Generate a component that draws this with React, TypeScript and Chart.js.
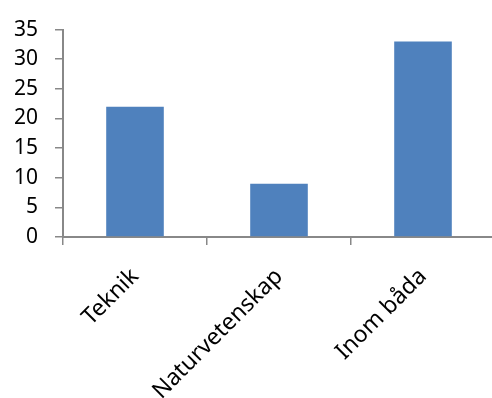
import React, { useEffect, useRef } from "react";
import { Chart, registerables } from "chart.js";

Chart.register(...registerables);

const categories = ["Teknik", "Naturvetenskap", "Inom båda"];
const values = [22, 9, 33];
const yMin = 0;
const yMax = 35;
const yStep = 5;

export default function App() {
  const ref = useRef<HTMLCanvasElement>(null);
  useEffect(() => {
    if (!ref.current) return;
    const chart = new Chart(ref.current, {
      type: "bar",
      data: {
        labels: categories,
        datasets: [
          {
            data: values,
            backgroundColor: "#4F81BD",
            borderWidth: 0,
            categoryPercentage: 1,
            barPercentage: 0.4,
          },
        ],
      },
      options: {
        animation: false,
        responsive: false,
        maintainAspectRatio: false,
        layout: { padding: { top: 26, right: 5, left: 0, bottom: 0 } },
        plugins: { legend: { display: false }, tooltip: { enabled: false } },
        scales: {
          x: {
            grid: {
              drawOnChartArea: false,
              drawTicks: true,
              tickLength: 8,
              color: "#888888",
              lineWidth: 1.5,
            },
            border: { display: true, color: "#888888", width: 2 },
            ticks: {
              color: "#000000",
              font: { family: "Noto Sans", size: 23 },
              minRotation: 45,
              maxRotation: 45,
              autoSkip: false,
              padding: 18,
            },
            afterFit: (s: any) => {
              s.height = 161;
            },
          },
          y: {
            min: yMin,
            max: yMax,
            grid: {
              drawOnChartArea: false,
              drawTicks: true,
              tickLength: 8,
              color: "#888888",
              lineWidth: 1.5,
            },
            border: { display: true, color: "#888888", width: 2 },
            ticks: {
              stepSize: yStep,
              color: "#000000",
              font: { family: "Noto Sans", size: 21 },
              padding: 17,
            },
            afterFit: (s: any) => {
              s.width = 63;
            },
          },
        },
      },
    });
    return () => chart.destroy();
  }, []);
  return (
    <div style={{ position: "fixed", left: 0, top: 0, width: 500, height: 398 }}>
      <canvas ref={ref} width={500} height={398} style={{ display: "block" }} />
    </div>
  );
}
